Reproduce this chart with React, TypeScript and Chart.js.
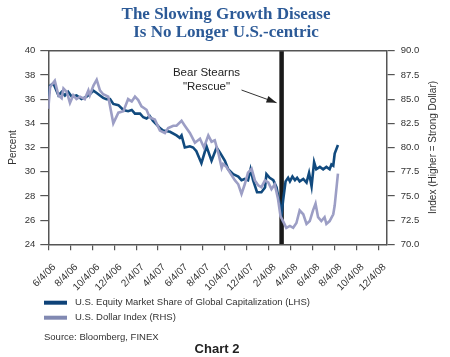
import React, { useEffect, useRef } from 'react';
import { Chart, registerables } from 'chart.js';
Chart.register(...registerables);

// ---------- data ----------
const titleLines = ['The Slowing Growth Disease', 'Is No Longer U.S.-centric'];
const xStartDate = '6/4/06';
const xEndDate = '12/27/08';
const xTickLabels = ['6/4/06', '8/4/06', '10/4/06', '12/4/06', '2/4/07', '4/4/07', '6/4/07', '8/4/07', '10/4/07', '12/4/07', '2/4/08', '4/4/08', '6/4/08', '8/4/08', '10/4/08', '12/4/08'];
const leftRange = [24, 40];
const leftStep = 2;
const rightRange = [70, 90];
const rightStep = 2.5;

const equityLabel = 'U.S. Equity Market Share of Global Capitalization (LHS)';
// days since 6/4/06
const equityDays = [0, 5, 14, 28, 37, 46, 55, 65, 78, 92, 106, 115, 125, 134, 143, 152, 161, 171, 180, 194, 208, 221, 231, 240, 254, 263, 272, 281, 290, 300, 309, 318, 337, 355, 364, 369, 378, 392, 401, 410, 424, 438, 452, 466, 475, 489, 498, 512, 526, 535, 544, 553, 560, 567, 578, 590, 600, 604, 613, 623, 632, 639, 646, 650, 657, 664, 669, 676, 683, 689, 696, 706, 715, 722, 729, 736, 742, 752, 761, 770, 779, 784, 789, 793, 802];
const equityShare = [36.2, 37.1, 37.3, 36.3, 36.6, 36.3, 36.6, 36.2, 36.3, 36.0, 36.2, 36.4, 36.7, 36.5, 36.3, 36.1, 36.0, 36.0, 35.6, 35.5, 35.1, 35.0, 35.1, 34.8, 34.8, 34.5, 34.4, 34.6, 34.2, 33.9, 33.6, 33.4, 33.3, 33.0, 32.8, 33.0, 32.0, 32.1, 32.0, 31.7, 30.7, 32.1, 30.9, 32.0, 31.6, 30.9, 30.2, 29.8, 29.6, 29.3, 29.4, 29.3, 30.2, 29.3, 28.3, 28.3, 28.7, 29.8, 29.5, 29.3, 28.7, 27.6, 26.5, 27.6, 29.2, 29.5, 29.2, 29.6, 29.3, 29.5, 29.2, 29.4, 29.1, 29.9, 28.8, 30.8, 30.2, 30.4, 30.2, 30.4, 30.2, 30.6, 30.5, 31.5, 32.2];

const dollarLabel = 'U.S. Dollar Index (RHS)';
const dollarDays = [0, 5, 18, 28, 37, 42, 51, 60, 69, 78, 88, 101, 111, 115, 125, 134, 143, 152, 166, 180, 194, 208, 221, 231, 240, 249, 258, 272, 281, 295, 309, 323, 332, 346, 355, 369, 378, 392, 406, 420, 431, 443, 452, 461, 471, 480, 484, 493, 503, 517, 526, 535, 544, 553, 563, 572, 581, 590, 600, 609, 618, 627, 636, 643, 650, 659, 669, 678, 687, 696, 706, 715, 724, 733, 740, 747, 756, 765, 770, 779, 789, 793, 802];
const dollarIndex = [84.0, 86.25, 86.9, 85.4, 85.1, 86.1, 85.75, 84.6, 85.4, 85.0, 85.25, 85.0, 85.9, 85.4, 86.4, 87.0, 85.9, 85.5, 85.25, 82.5, 83.6, 83.75, 85.0, 84.75, 85.25, 84.9, 84.25, 83.9, 83.1, 82.9, 81.75, 81.5, 82.0, 82.25, 82.25, 82.75, 82.25, 81.5, 80.5, 80.9, 80.0, 81.25, 80.6, 80.75, 79.4, 77.9, 78.3, 78.0, 77.4, 76.6, 76.2, 75.2, 76.2, 77.4, 77.8, 76.6, 76.1, 75.9, 76.6, 76.4, 75.7, 76.2, 74.7, 72.9, 72.4, 71.7, 71.9, 71.7, 72.2, 73.5, 73.1, 72.1, 72.4, 73.5, 74.2, 72.8, 72.4, 72.8, 72.1, 72.4, 73.1, 74.0, 77.3];

const eventDate = '3/11/08';
const eventText = ['Bear Stearns', '"Rescue"'];
const eventTextAt = [438, 38.15, 37.05]; // day, y (LHS) for each line
const eventArrow = [535, 36.75, 632, 35.7]; // from day,y -> to day,y (LHS)

const sourceText = 'Source: Bloomberg, FINEX';
const chartCaption = 'Chart 2';
const leftTitle = 'Percent';
const rightTitle = 'Index (Higher = Strong Dollar)';

// ---------- helpers ----------
const toUTC = (s: string) => {
  const [m, d, y] = s.split('/').map(Number);
  return Date.UTC(2000 + y, m - 1, d);
};
const dayOf = (s: string) => Math.round((toUTC(s) - toUTC(xStartDate)) / 86400000);

const BLUE = '#114a7e';
const LAV = '#9c9ec5';
const AXIS = '#555555';
const TEXT = '#333333';
const SANS = '"Liberation Sans", Arial, sans-serif';

export default function App() {
  const ref = useRef<HTMLCanvasElement | null>(null);

  useEffect(() => {
    if (!ref.current) return;
    const tickDays = xTickLabels.map(dayOf);
    const evDay = dayOf(eventDate);

    const decor = {
      id: 'decor',
      afterDraw(chart: any) {
        const { ctx, chartArea } = chart;
        const xs = chart.scales.x;
        const ys = chart.scales.y;
        ctx.save();
        // top border
        ctx.strokeStyle = AXIS;
        ctx.lineWidth = 1.5;
        ctx.beginPath();
        ctx.moveTo(chartArea.left, chartArea.top);
        ctx.lineTo(chartArea.right, chartArea.top);
        ctx.stroke();

        // title
        ctx.fillStyle = '#2c5a97';
        ctx.font = 'bold 17px "Liberation Serif", serif';
        ctx.textAlign = 'center';
        ctx.textBaseline = 'middle';
        titleLines.forEach((t, i) => ctx.fillText(t, 226, 15 + i * 18));

        // axis titles
        const midY = (chartArea.top + chartArea.bottom) / 2;
        ctx.fillStyle = TEXT;
        ctx.font = `10px ${SANS}`;
        ctx.save();
        ctx.translate(13, midY);
        ctx.rotate(-Math.PI / 2);
        ctx.fillText(leftTitle, 0, 0);
        ctx.restore();
        ctx.save();
        ctx.translate(433, midY);
        ctx.rotate(-Math.PI / 2);
        ctx.fillText(rightTitle, 0, 0);
        ctx.restore();

        // event annotation
        ctx.font = `11.5px ${SANS}`;
        ctx.fillStyle = '#222';
        eventText.forEach((t, i) =>
          ctx.fillText(t, xs.getPixelForValue(eventTextAt[0]), ys.getPixelForValue(eventTextAt[1 + i]))
        );
        const x1 = xs.getPixelForValue(eventArrow[0]);
        const y1 = ys.getPixelForValue(eventArrow[1]);
        const x2 = xs.getPixelForValue(eventArrow[2]);
        const y2 = ys.getPixelForValue(eventArrow[3]);
        ctx.strokeStyle = '#333';
        ctx.lineWidth = 1;
        ctx.beginPath();
        ctx.moveTo(x1, y1);
        ctx.lineTo(x2, y2);
        ctx.stroke();
        const ang = Math.atan2(y2 - y1, x2 - x1);
        ctx.fillStyle = '#222';
        ctx.beginPath();
        ctx.moveTo(x2, y2);
        ctx.lineTo(x2 - 10 * Math.cos(ang) + 3.5 * Math.sin(ang), y2 - 10 * Math.sin(ang) - 3.5 * Math.cos(ang));
        ctx.lineTo(x2 - 10 * Math.cos(ang) - 3.5 * Math.sin(ang), y2 - 10 * Math.sin(ang) + 3.5 * Math.cos(ang));
        ctx.closePath();
        ctx.fill();

        // legend
        const items = chart.data.datasets.filter((d: any) => d.inLegend);
        items
          .slice()
          .reverse()
          .forEach((d: any, i: number) => {
            const y = 302.7 + i * 15;
            ctx.strokeStyle = d.legendColor || d.borderColor;
            ctx.lineWidth = 4;
            ctx.beginPath();
            ctx.moveTo(44, y);
            ctx.lineTo(67, y);
            ctx.stroke();
            ctx.fillStyle = TEXT;
            ctx.font = `9.5px ${SANS}`;
            ctx.textAlign = 'left';
            ctx.textBaseline = 'middle';
            ctx.fillText(d.label, 75, y);
          });

        // source & caption
        ctx.fillStyle = TEXT;
        ctx.font = `9.5px ${SANS}`;
        ctx.textAlign = 'left';
        ctx.fillText(sourceText, 44, 337);
        ctx.fillStyle = '#222';
        ctx.font = `bold 13px ${SANS}`;
        ctx.textAlign = 'center';
        ctx.fillText(chartCaption, 217, 349);
        ctx.restore();
      },
    };

    const chart = new Chart(ref.current, {
      type: 'line',
      data: {
        datasets: [
          {
            label: dollarLabel,
            inLegend: true,
            legendColor: '#8189b2',
            data: dollarDays.map((d, i) => ({ x: d, y: dollarIndex[i] })),
            yAxisID: 'y1',
            borderColor: LAV,
            borderWidth: 2.6,
            pointRadius: 0,
            tension: 0,
          } as any,
          {
            label: equityLabel,
            inLegend: true,
            legendColor: '#0e4278',
            data: equityDays.map((d, i) => ({ x: d, y: equityShare[i] })),
            yAxisID: 'y',
            borderColor: BLUE,
            borderWidth: 2.6,
            pointRadius: 0,
            tension: 0,
          } as any,
          {
            label: 'event',
            data: [
              { x: evDay, y: leftRange[0] },
              { x: evDay, y: leftRange[1] },
            ],
            yAxisID: 'y',
            borderColor: '#1a1a1a',
            borderWidth: 4.5,
            borderCapStyle: 'butt',
            pointRadius: 0,
          } as any,
        ],
      },
      options: {
        responsive: false,
        devicePixelRatio: 1,
        animation: false,
        layout: { padding: { top: 50.7, left: 0, right: 0, bottom: 0 } },
        plugins: { legend: { display: false }, title: { display: false }, tooltip: { enabled: false } },
        scales: {
          x: {
            type: 'linear',
            position: 'bottom',
            min: 0,
            max: dayOf(xEndDate),
            afterBuildTicks: (s: any) => {
              s.ticks = tickDays.map((v) => ({ value: v }));
            },
            afterFit: (s: any) => {
              s.height = 112.7;
            },
            ticks: {
              autoSkip: false,
              maxRotation: 45,
              minRotation: 45,
              padding: 11,
              labelOffset: 6,
              color: TEXT,
              font: { family: SANS, size: 10 },
              callback: (_v: any, i: number) => xTickLabels[i],
            },
            grid: { drawOnChartArea: false, drawTicks: true, tickLength: 6, color: AXIS, lineWidth: 1.2 },
            border: { display: true, color: AXIS, width: 1.5 },
          },
          y: {
            position: 'left',
            min: leftRange[0],
            max: leftRange[1],
            afterFit: (s: any) => {
              s.width = 48.3;
            },
            ticks: { stepSize: leftStep, padding: 5, color: TEXT, font: { family: SANS, size: 9.5 } },
            grid: { drawOnChartArea: false, drawTicks: true, tickLength: 8, color: AXIS, lineWidth: 1.2 },
            border: { display: true, color: AXIS, width: 1.5 },
          },
          y1: {
            position: 'right',
            min: rightRange[0],
            max: rightRange[1],
            afterFit: (s: any) => {
              s.width = 450 - 386.7;
            },
            ticks: {
              stepSize: rightStep,
              padding: 6,
              color: TEXT,
              font: { family: SANS, size: 9.5 },
              callback: (v: any) => Number(v).toFixed(1),
            },
            grid: { drawOnChartArea: false, drawTicks: true, tickLength: 8, color: AXIS, lineWidth: 1.2 },
            border: { display: true, color: AXIS, width: 1.5 },
          },
        },
      } as any,
      plugins: [decor],
    });
    return () => chart.destroy();
  }, []);

  return (
    <div style={{ position: 'fixed', left: 0, top: 0, width: 450, height: 357, background: '#fff' }}>
      <canvas ref={ref} width={450} height={357} />
    </div>
  );
}
